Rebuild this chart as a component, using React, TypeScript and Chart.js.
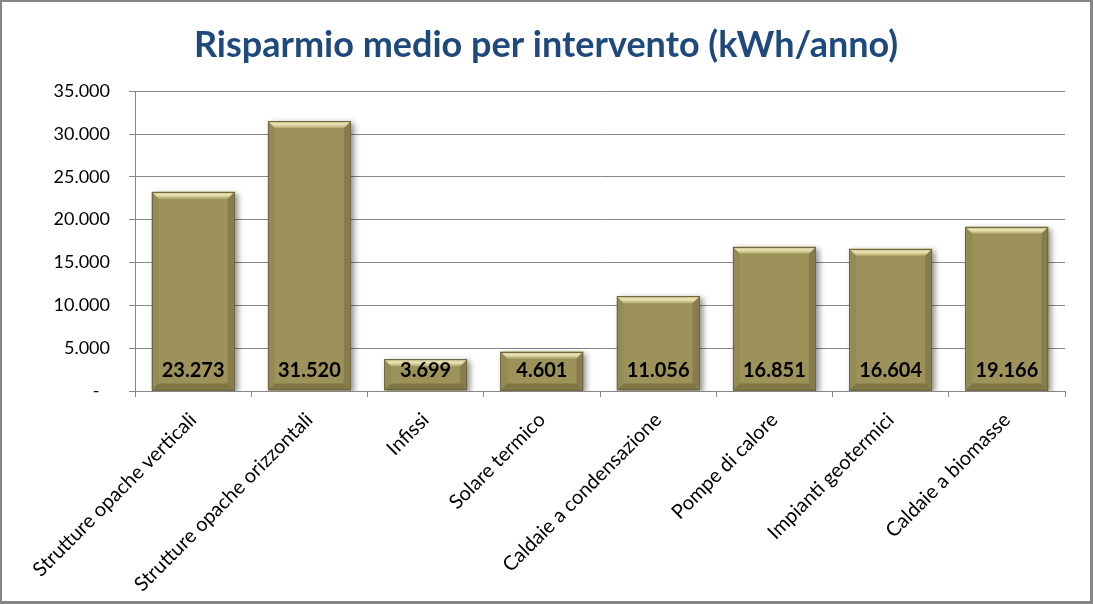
import React, { useEffect, useRef } from "react";
import { Chart, registerables } from "chart.js";

Chart.register(...registerables);

const categories = [
  "Strutture opache verticali",
  "Strutture opache orizzontali",
  "Infissi",
  "Solare termico",
  "Caldaie a condensazione",
  "Pompe di calore",
  "Impianti geotermici",
  "Caldaie a biomasse",
];
const savings = [23273, 31520, 3699, 4601, 11056, 16851, 16604, 19166];
const yMin = 0;
const yMax = 35000;
const yStep = 5000;
const titleText = "Risparmio medio per intervento (kWh/anno)";

function fmt(v: number): string {
  if (v === 0) return "-\u2007";
  return String(Math.round(v)).replace(/\B(?=(\d{3})+(?!\d))/g, ".");
}

const bevelPlugin = {
  id: "bevel",
  beforeDatasetsDraw(chart: any) {
    const ctx = chart.ctx;
    ctx.save();
    ctx.shadowColor = "rgba(0,0,0,0.45)";
    ctx.shadowBlur = 6;
    ctx.shadowOffsetX = 3;
    ctx.shadowOffsetY = 2;
  },
  afterDatasetsDraw(chart: any) {
    const ctx = chart.ctx;
    ctx.restore();
    const meta = chart.getDatasetMeta(0);
    const data = chart.data.datasets[0].data;
    meta.data.forEach((bar: any, i: number) => {
      const p = bar.getProps(["x", "y", "base", "width"], true);
      const x0 = p.x - p.width / 2;
      const x1 = p.x + p.width / 2;
      const top = Math.min(p.y, p.base);
      const bot = Math.max(p.y, p.base);
      const b = Math.min(7, (bot - top) / 2);
      ctx.save();
      // left bevel
      ctx.beginPath();
      ctx.moveTo(x0, top);
      ctx.lineTo(x0 + b, top + b);
      ctx.lineTo(x0 + b, bot - b);
      ctx.lineTo(x0, bot);
      ctx.closePath();
      ctx.fillStyle = "rgba(60,55,20,0.08)";
      ctx.fill();
      // right bevel
      ctx.beginPath();
      ctx.moveTo(x1, top);
      ctx.lineTo(x1 - b, top + b);
      ctx.lineTo(x1 - b, bot - b);
      ctx.lineTo(x1, bot);
      ctx.closePath();
      ctx.fillStyle = "rgba(40,35,10,0.18)";
      ctx.fill();
      // bottom bevel
      ctx.beginPath();
      ctx.moveTo(x0, bot);
      ctx.lineTo(x0 + b, bot - b);
      ctx.lineTo(x1 - b, bot - b);
      ctx.lineTo(x1, bot);
      ctx.closePath();
      ctx.fillStyle = "rgba(40,35,10,0.25)";
      ctx.fill();
      // top bevel
      const g = ctx.createLinearGradient(0, top, 0, top + b);
      g.addColorStop(0, "#BDB47A");
      g.addColorStop(0.45, "#ECE6B8");
      g.addColorStop(1, "#B2A86C");
      ctx.beginPath();
      ctx.moveTo(x0, top);
      ctx.lineTo(x1, top);
      ctx.lineTo(x1 - b, top + b);
      ctx.lineTo(x0 + b, top + b);
      ctx.closePath();
      ctx.fillStyle = g;
      ctx.fill();
      // outline
      ctx.strokeStyle = "#6F6840";
      ctx.lineWidth = 1;
      ctx.strokeRect(Math.round(x0) + 0.5, Math.round(top) + 0.5, Math.round(x1 - x0) - 1, Math.round(bot - top) - 1);
      // value label
      ctx.font = "bold 20px Lato";
      ctx.fillStyle = "#000000";
      ctx.textAlign = "center";
      ctx.textBaseline = "middle";
      ctx.fillText(fmt(data[i] as number), p.x, p.base - 20);
      ctx.restore();
    });
  },
};

export default function App() {
  const ref = useRef<HTMLCanvasElement | null>(null);
  useEffect(() => {
    if (!ref.current) return;
    const chart = new Chart(ref.current, {
      type: "bar",
      data: {
        labels: categories,
        datasets: [
          {
            data: savings,
            backgroundColor: "#9C925A",
            borderWidth: 0,
            barPercentage: 1 / 1.4,
            categoryPercentage: 1,
          },
        ],
      },
      options: {
        animation: false,
        responsive: false,
        maintainAspectRatio: false,
        layout: { padding: { left: 25, right: 25, top: 0, bottom: 0 } },
        plugins: {
          legend: { display: false },
          tooltip: { enabled: false },
          title: {
            display: true,
            text: titleText,
            color: "#1F497D",
            font: { family: "Lato", size: 36, weight: "bold" },
            padding: { top: 22, bottom: 24 },
          },
        },
        scales: {
          x: {
            offset: true,
            grid: {
              offset: true,
              drawOnChartArea: false,
              drawTicks: true,
              tickLength: 6,
              color: "#868686",
            },
            border: { color: "#868686" },
            ticks: {
              minRotation: 45,
              maxRotation: 45,
              autoSkip: false,
              color: "#000000",
              font: { family: "Lato", size: 20 },
              padding: 11,
            },
            afterFit(s: any) {
              s.height = 210;
            },
          },
          y: {
            min: yMin,
            max: yMax,
            ticks: {
              stepSize: yStep,
              callback: (v: any) => fmt(Number(v)),
              color: "#000000",
              font: { family: "Lato", size: 18 },
              padding: 19,
            },
            grid: { color: "#868686", tickLength: 6 },
            border: { color: "#868686" },
            afterFit(s: any) {
              s.width = 108;
            },
          },
        },
      },
      plugins: [bevelPlugin],
    } as any);
    return () => chart.destroy();
  }, []);
  return (
    <div
      style={{
        position: "absolute",
        left: 0,
        top: 0,
        width: 1093,
        height: 604,
        boxSizing: "border-box",
        borderStyle: "solid",
        borderColor: "#868686",
        borderWidth: "2px 3px 3px 2px",
        background: "#ffffff",
      }}
    >
      <canvas ref={ref} width={1088} height={599} style={{ display: "block" }} />
    </div>
  );
}
